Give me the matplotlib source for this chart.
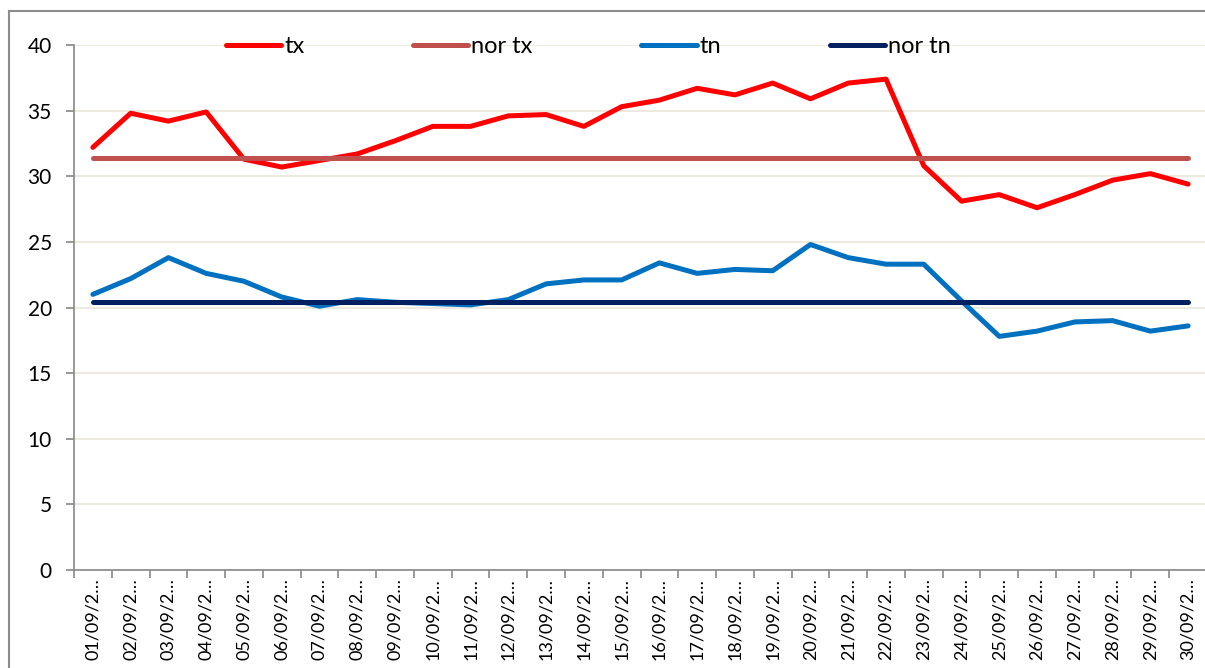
import matplotlib
matplotlib.use('Agg')
import matplotlib.pyplot as plt
from matplotlib.lines import Line2D

plt.rcParams['font.family'] = ['Lato', 'DejaVu Sans']

days = [f'{d:02d}/09/2\u2026' for d in range(1, 31)]
tx = [32.2, 34.8, 34.2, 34.9, 31.3, 30.7, 31.2, 31.7, 32.7, 33.8,
      33.8, 34.6, 34.7, 33.8, 35.3, 35.8, 36.7, 36.2, 37.1, 35.9,
      37.1, 37.4, 30.8, 28.1, 28.6, 27.6, 28.6, 29.7, 30.2, 29.4]
tn = [21.0, 22.2, 23.8, 22.6, 22.0, 20.8, 20.1, 20.6, 20.4, 20.3,
      20.2, 20.6, 21.8, 22.1, 22.1, 23.4, 22.6, 22.9, 22.8, 24.8,
      23.8, 23.3, 23.3, 20.5, 17.8, 18.2, 18.9, 19.0, 18.2, 18.6]
nor_tx = [31.4] * 30
nor_tn = [20.4] * 30

fig = plt.figure(figsize=(12.05, 6.68), dpi=100)
ax = fig.add_axes([74 / 1205, 1 - 570 / 668, 1133 / 1205, 525 / 668])

x = list(range(len(days)))
lw = 3.6
ax.plot(x, tx, color='#FF0000', lw=lw, solid_capstyle='round', solid_joinstyle='round', label='tx', zorder=3)
ax.plot(x, nor_tx, color='#C0504D', lw=lw, solid_capstyle='round', label='nor tx', zorder=3)
ax.plot(x, tn, color='#0070C0', lw=lw, solid_capstyle='round', solid_joinstyle='round', label='tn', zorder=3)
ax.plot(x, nor_tn, color='#002060', lw=lw, solid_capstyle='round', label='nor tn', zorder=3)

ax.set_xlim(-0.5, len(days) - 0.5)
ax.set_ylim(0, 40)
ax.set_yticks(range(0, 41, 5))
ax.yaxis.grid(True, color='#EEEAE0', lw=1.5, zorder=0)
ax.set_axisbelow(True)

ax.set_xticks(x)
ax.set_xticklabels(days, rotation=90, fontsize=13, va='top', ha='center')
ax.set_xticks([i - 0.5 for i in range(len(days) + 1)], minor=True)
ax.tick_params(axis='x', which='major', length=0, pad=6)
ax.tick_params(axis='x', which='minor', length=6, color='#888888', width=1.2)
ax.tick_params(axis='y', length=6, color='#888888', width=1.2, pad=10, labelsize=15)

for s in ['top', 'right']:
    ax.spines[s].set_visible(False)
for s in ['left', 'bottom']:
    ax.spines[s].set_color('#888888')
    ax.spines[s].set_linewidth(1.2)

ax.legend(loc='center', bbox_to_anchor=(0.454, 0.997), ncol=4, frameon=False,
          fontsize=17, handlelength=2.35, handletextpad=0.12, columnspacing=4.6)

# outer chart frame (cropped on the right and bottom)
fx = 9 / 1205
fy = 1 - 11 / 668
fig.add_artist(Line2D([fx, 1.0], [fy, fy], transform=fig.transFigure, color='#8C8C8C', lw=1.5))
fig.add_artist(Line2D([fx, fx], [0, fy], transform=fig.transFigure, color='#8C8C8C', lw=1.5))

fig.savefig('out.png', dpi=100)
